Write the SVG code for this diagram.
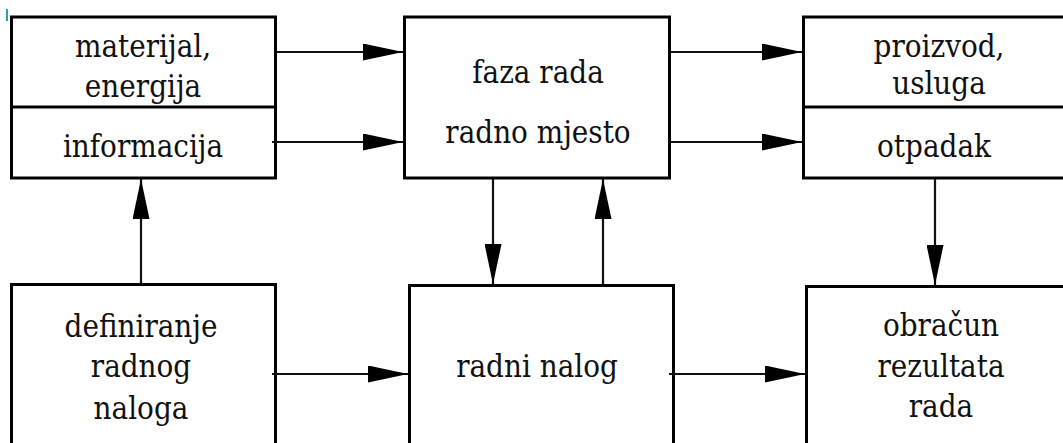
<svg xmlns="http://www.w3.org/2000/svg" width="1063" height="443" viewBox="0 0 1063 443">
<defs>
<marker id="ah" viewBox="0 0 40 17" refX="40" refY="8.5" markerWidth="40" markerHeight="17" markerUnits="userSpaceOnUse" orient="auto">
<path d="M0,0 L40,8.5 L0,17 Z" fill="#000"/>
</marker>
</defs>
<style>
.box{fill:#fff;stroke:#000;stroke-width:3}
.div{stroke:#000;stroke-width:3}
.lbl{font-family:"DejaVu Serif Condensed","DejaVu Serif",serif;font-stretch:condensed;font-size:31px;fill:#111;text-anchor:middle}
.con{stroke:#111;stroke-width:2.2;fill:none;marker-end:url(#ah)}
</style>
<rect width="1063" height="443" fill="#fff"/>
<rect x="6" y="9" width="2" height="12" fill="#1fa5ad"/>
<g id="inputs">
<rect class="box" x="11.5" y="17" width="264" height="161"/>
<line class="div" x1="11.5" y1="107" x2="275.5" y2="107"/>
<text class="lbl" x="143" y="57">materijal,</text>
<text class="lbl" x="143" y="97">energija</text>
<text class="lbl" x="143" y="157">informacija</text>
</g>
<g id="faza">
<rect class="box" x="404.5" y="17" width="265" height="161"/>
<text class="lbl" x="538" y="83">faza rada</text>
<text class="lbl" x="538" y="143">radno mjesto</text>
</g>
<g id="outputs">
<rect class="box" x="803.5" y="17" width="280" height="161"/>
<line class="div" x1="803.5" y1="107" x2="1083" y2="107"/>
<text class="lbl" x="939" y="57">proizvod,</text>
<text class="lbl" x="939" y="94">usluga</text>
<text class="lbl" x="934" y="157">otpadak</text>
</g>
<g id="definiranje">
<rect class="box" x="11.5" y="284.5" width="264" height="180"/>
<text class="lbl" x="141" y="337">definiranje</text>
<text class="lbl" x="141" y="377">radnog</text>
<text class="lbl" x="141" y="419">naloga</text>
</g>
<g id="nalog">
<rect class="box" x="409.5" y="285.5" width="264" height="180"/>
<text class="lbl" x="537" y="377">radni nalog</text>
</g>
<g id="obracun">
<rect class="box" x="806.5" y="286.5" width="280" height="180"/>
<text class="lbl" x="941" y="336">obračun</text>
<text class="lbl" x="941" y="377">rezultata</text>
<text class="lbl" x="941" y="417">rada</text>
</g>
<g id="connectors">
<line class="con" x1="277" y1="52" x2="403" y2="52"/>
<line class="con" x1="272" y1="142" x2="403" y2="142"/>
<line class="con" x1="671" y1="52" x2="802" y2="52"/>
<line class="con" x1="671" y1="142" x2="802" y2="142"/>
<line class="con" x1="141" y1="283" x2="141" y2="179"/>
<line class="con" x1="493" y1="179" x2="493" y2="284"/>
<line class="con" x1="603" y1="284" x2="603" y2="179"/>
<line class="con" x1="935" y1="179" x2="935" y2="285"/>
<line class="con" x1="272" y1="374" x2="408" y2="374"/>
<line class="con" x1="669" y1="374" x2="805" y2="374"/>
</g>
</svg>
